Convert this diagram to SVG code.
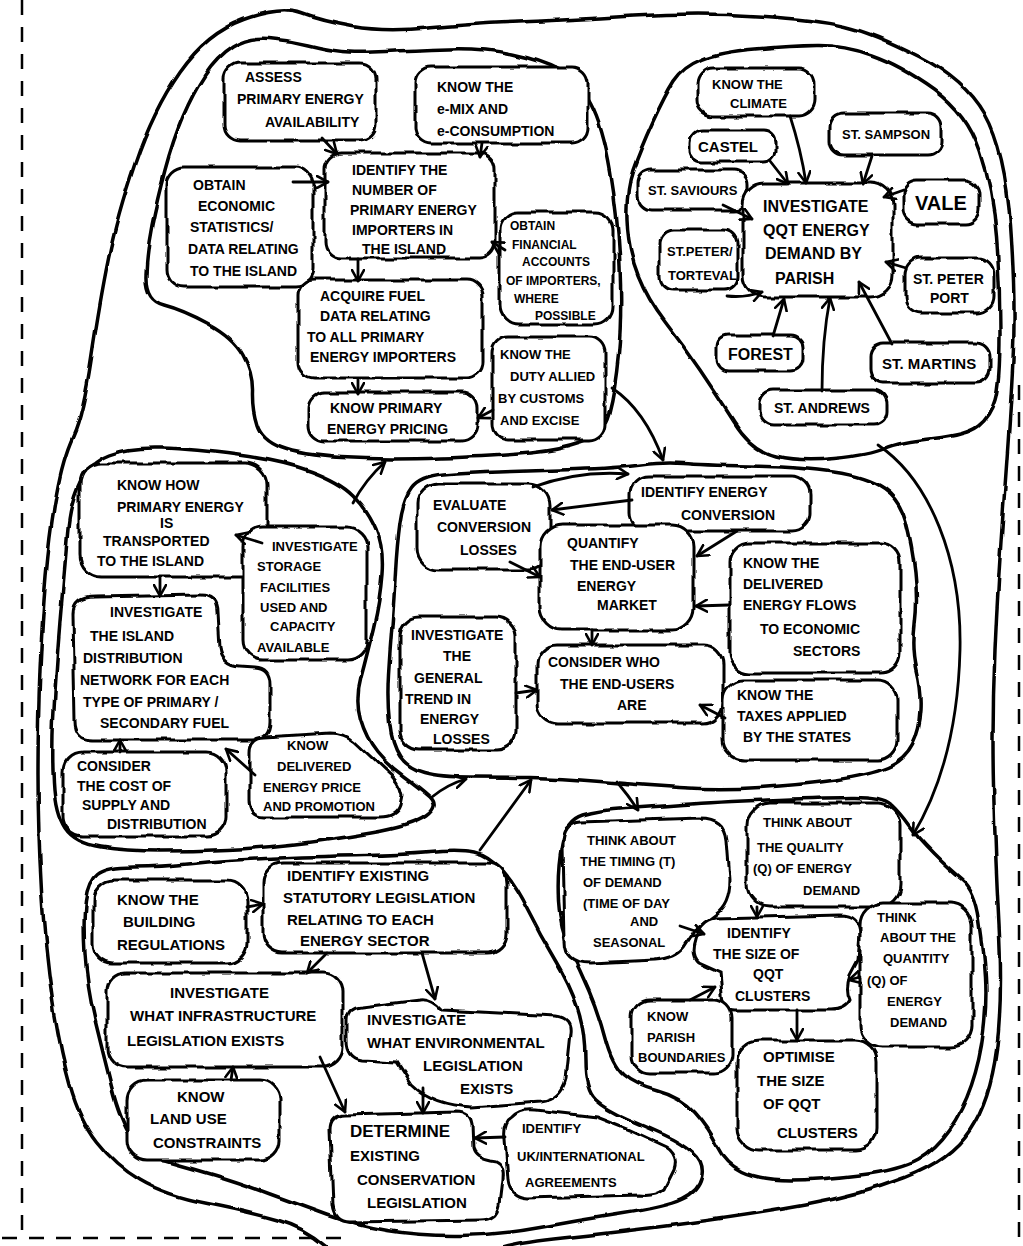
<svg xmlns="http://www.w3.org/2000/svg" width="1023" height="1246" viewBox="0 0 1023 1246">
<defs>
<filter id="wob" x="-10%" y="-15%" width="120%" height="130%"><feTurbulence type="fractalNoise" baseFrequency="0.045" numOctaves="2" seed="3"/><feDisplacementMap in="SourceGraphic" scale="6" xChannelSelector="R" yChannelSelector="G"/></filter>
<filter id="wob2" x="-5%" y="-5%" width="110%" height="110%"><feTurbulence type="fractalNoise" baseFrequency="0.03" numOctaves="2" seed="7"/><feDisplacementMap in="SourceGraphic" scale="5" xChannelSelector="R" yChannelSelector="G"/></filter>
<marker id="ah" viewBox="0 0 14 14" refX="12" refY="7" markerWidth="14" markerHeight="14" markerUnits="userSpaceOnUse" orient="auto"><path d="M1,1 L12,7 L1,13" fill="none" stroke="#000" stroke-width="2.6" stroke-linecap="round" stroke-linejoin="round"/></marker>
</defs>
<style>
.blob{fill:#fff;stroke:#000;stroke-width:3;filter:url(#wob)}
.region{fill:none;stroke:#000;stroke-width:3.5;filter:url(#wob2)}
.dash{fill:none;stroke:#000;stroke-width:2.5;stroke-dasharray:15 12}
text{font-family:"Liberation Sans",Arial,sans-serif;font-weight:bold;font-size:14px;fill:#000}
.s12{font-size:12px}.s13{font-size:13px}.s15{font-size:15px}.s16{font-size:16px}.s17{font-size:17px}.s20{font-size:20px}
.con{fill:none;stroke:#000;stroke-width:2.8;stroke-linecap:round;marker-end:url(#ah)}
</style>
<rect width="1023" height="1246" fill="#fff"/>
<g id="page-border">
<path class="dash" d="M22,0 L22,1232"/>
<path class="dash" d="M2,1238 L342,1238"/>
<path class="dash" d="M1019,385 L1019,1246"/>
</g>
<g id="regions">
<path id="outer" class="region" d="M244.5,19.5 Q282,6 301.5,13.5 Q321,21 352.5,26.5 Q384,32 427,28 Q470,24 518.5,22 Q567,20 633.5,16 Q700,12 758,16 Q816,20 844.5,26.5 Q873,33 919,56.5 Q965,80 985,115 Q1005,150 1010.5,225 Q1016,300 1013,360 Q1010,420 1004,500 Q998,580 995,650 Q992,720 993.5,785 Q995,850 999,925 Q1003,1000 996.5,1050 Q990,1100 970,1130 Q950,1160 905,1177.5 Q860,1195 805,1205 Q750,1215 685,1223.5 Q620,1232 562.5,1238 Q505,1244 487.5,1253 Q470,1262 407.5,1262 Q345,1262 325,1245 Q305,1228 277.5,1220 Q250,1212 207.5,1203.5 Q165,1195 140,1180 Q115,1165 97.5,1142.5 Q80,1120 70,1085 Q60,1050 52.5,1000 Q45,950 41.5,890 Q38,830 38,775 Q38,720 40,670 Q42,620 46,575 Q50,530 56.5,494 Q63,458 73,436.5 Q83,415 91.5,357.5 Q100,300 108.5,258.5 Q117,217 135,163.5 Q153,110 180,71.5 Q207,33 244.5,19.5 Z"/>
<path id="region-primary" class="region" d="M232.5,47 Q248,37 268,38.5 Q288,40 308,45 Q328,50 342.5,51.5 Q357,53 385.5,51.5 Q414,50 448.5,49 Q483,48 511.5,54 Q540,60 559,70 Q578,80 590.5,103.5 Q603,127 610.5,172 Q618,217 620,267 Q622,317 618.5,353.5 Q615,390 609,412.5 Q603,435 581.5,442.5 Q560,450 530,453 Q500,456 441.5,458 Q383,460 341.5,457.5 Q300,455 281,447.5 Q262,440 257,425 Q252,410 252.5,391.5 Q253,373 243,355 Q233,337 208,323.5 Q183,310 164,305 Q145,300 146,275 Q147,250 152,225 Q157,200 165,170 Q173,140 183,116.5 Q193,93 205,75 Q217,57 232.5,47 Z"/>
<path id="region-parish" class="region" d="M674,81 Q683,67 701.5,59.5 Q720,52 755,49 Q790,46 816.5,45.5 Q843,45 871.5,55 Q900,65 933.5,89 Q967,113 980,151.5 Q993,190 996.5,236.5 Q1000,283 1000,333 Q1000,383 995,400 Q990,417 978.5,426 Q967,435 933.5,438.5 Q900,442 885,448.5 Q870,455 835,458.5 Q800,462 776,456 Q752,450 734.5,422.5 Q717,395 700,370 Q683,345 665.5,322.5 Q648,300 638,275 Q628,250 627,220 Q626,190 633,170 Q640,150 652.5,122.5 Q665,95 674,81 Z"/>
<path id="region-transport" class="region" d="M110,455 Q130,447 161.5,448 Q193,449 238,455 Q283,461 311.5,471.5 Q340,482 354,496 Q368,510 376,529 Q384,548 382,574 Q380,600 373.5,627.5 Q367,655 361,677.5 Q355,700 360.5,719 Q366,738 377,751.5 Q388,765 404,776.5 Q420,788 430,797 Q440,806 426,816 Q412,826 371,833 Q330,840 295,844 Q260,848 226.5,849.5 Q193,851 160,851 Q127,851 101,847 Q75,843 65,828 Q55,813 53.5,783 Q52,753 53.5,720 Q55,687 57.5,653.5 Q60,620 62.5,592.5 Q65,565 67.5,534 Q70,503 80,483 Q90,463 110,455 Z"/>
<path id="region-enduser" class="region" d="M411.5,488.5 Q420,477 443.5,475 Q467,473 500,472 Q533,471 575,469.5 Q617,468 641,465 Q665,462 682.5,463.5 Q700,465 750,466 Q800,467 833.5,472 Q867,477 883.5,488.5 Q900,500 906,522.5 Q912,545 915,572.5 Q918,600 915,625 Q912,650 917,670 Q922,690 921,710 Q920,730 912.5,745 Q905,760 887.5,767.5 Q870,775 835,780 Q800,785 760,787.5 Q720,790 680,787.5 Q640,785 600,781.5 Q560,778 530,777.5 Q500,777 470,777 Q440,777 424,772.5 Q408,768 400,756.5 Q392,745 389.5,722.5 Q387,700 388.5,675 Q390,650 392,625 Q394,600 395.5,572.5 Q397,545 400,522.5 Q403,500 411.5,488.5 Z"/>
<path id="region-legislation" class="region" d="M97.5,874.5 Q107,867 133.5,867 Q160,867 193.5,863.5 Q227,860 278.5,858 Q330,856 365,855.5 Q400,855 430,852.5 Q460,850 475,853 Q490,856 502.5,870.5 Q515,885 527.5,910 Q540,935 555,960 Q570,985 577.5,1007.5 Q585,1030 585,1060 Q585,1090 596,1100 Q607,1110 627,1118.5 Q647,1127 664.5,1135 Q682,1143 693.5,1153 Q705,1163 701.5,1177.5 Q698,1192 681.5,1199.5 Q665,1207 622.5,1213.5 Q580,1220 540,1227.5 Q500,1235 460,1235.5 Q420,1236 387.5,1230.5 Q355,1225 327.5,1215 Q300,1205 270,1194 Q240,1183 215,1175.5 Q190,1168 166.5,1161.5 Q143,1155 131.5,1137.5 Q120,1120 111.5,1086.5 Q103,1053 95,1020 Q87,987 85,953.5 Q83,920 85.5,901 Q88,882 97.5,874.5 Z"/>
<path id="region-qqt" class="region" d="M562,845 Q567,820 583.5,815 Q600,810 625,808.5 Q650,807 683.5,804.5 Q717,802 767,800 Q817,798 850,797.5 Q883,797 891.5,805 Q900,813 908.5,825 Q917,837 933.5,853.5 Q950,870 962.5,880 Q975,890 979.5,920 Q984,950 985.5,976.5 Q987,1003 983.5,1031.5 Q980,1060 971.5,1085 Q963,1110 949,1130 Q935,1150 917.5,1160 Q900,1170 860,1175 Q820,1180 790,1180 Q760,1180 742.5,1171.5 Q725,1163 716.5,1145.5 Q708,1128 694,1112.5 Q680,1097 657.5,1091 Q635,1085 623.5,1075 Q612,1065 605,1038.5 Q598,1012 589,991 Q580,970 570,950 Q560,930 558.5,900 Q557,870 562,845 Z"/>
</g>
<g id="n-assess"><rect class="blob" x="224" y="63" width="152" height="78" rx="16"/><text x="245" y="82">ASSESS</text><text x="237" y="104">PRIMARY ENERGY</text><text x="265" y="127">AVAILABILITY</text></g>
<g id="n-emix"><rect class="blob" x="415" y="67" width="173" height="76" rx="16"/><text x="437" y="92">KNOW THE</text><text x="437" y="114">e-MIX AND</text><text x="437" y="136">e-CONSUMPTION</text></g>
<g id="n-importers"><rect class="blob" x="325" y="153" width="170" height="105" rx="16"/><text x="352" y="175">IDENTIFY THE</text><text x="352" y="195">NUMBER OF</text><text x="350" y="215">PRIMARY ENERGY</text><text x="352" y="235">IMPORTERS IN</text><text x="362" y="254">THE ISLAND</text></g>
<g id="n-economic"><rect class="blob" x="166" y="167" width="147" height="120" rx="18"/><text x="193" y="190">OBTAIN</text><text x="198" y="211">ECONOMIC</text><text x="190" y="232">STATISTICS/</text><text x="188" y="254">DATA RELATING</text><text x="190" y="276">TO THE ISLAND</text></g>
<g id="n-financial"><rect class="blob" x="500" y="212" width="113" height="112" rx="18"/><text class="s12" x="510" y="230">OBTAIN</text><text class="s12" x="512" y="249">FINANCIAL</text><text class="s12" x="522" y="266">ACCOUNTS</text><text class="s12" x="506" y="285">OF IMPORTERS,</text><text class="s12" x="514" y="303">WHERE</text><text class="s12" x="535" y="320">POSSIBLE</text></g>
<g id="n-fueldata"><rect class="blob" x="298" y="280" width="185" height="98" rx="16"/><text x="320" y="301">ACQUIRE FUEL</text><text x="320" y="321">DATA RELATING</text><text x="307" y="342">TO ALL PRIMARY</text><text x="310" y="362">ENERGY IMPORTERS</text></g>
<g id="n-duty"><rect class="blob" x="492" y="337" width="113" height="103" rx="16"/><text class="s13" x="500" y="359">KNOW THE</text><text class="s13" x="510" y="381">DUTY ALLIED</text><text class="s13" x="498" y="403">BY CUSTOMS</text><text class="s13" x="500" y="425">AND EXCISE</text></g>
<g id="n-pricing"><rect class="blob" x="308" y="393" width="170" height="48" rx="16"/><text x="330" y="413">KNOW PRIMARY</text><text x="327" y="434">ENERGY PRICING</text></g>
<g id="n-climate"><rect class="blob" x="697" y="68" width="118" height="48" rx="16"/><text class="s13" x="712" y="89">KNOW THE</text><text class="s13" x="730" y="108">CLIMATE</text></g>
<g id="n-castel"><rect class="blob" x="690" y="130" width="85" height="32" rx="12"/><text class="s15" x="698" y="152">CASTEL</text></g>
<g id="n-sampson"><rect class="blob" x="830" y="113" width="112" height="42" rx="14"/><text class="s13" x="842" y="139">ST. SAMPSON</text></g>
<g id="n-saviours"><rect class="blob" x="637" y="170" width="110" height="40" rx="14"/><text class="s13" x="648" y="195">ST. SAVIOURS</text></g>
<g id="n-vale"><rect class="blob" x="903" y="180" width="76" height="44" rx="14"/><text class="s20" x="915" y="210">VALE</text></g>
<g id="n-torteval"><rect class="blob" x="660" y="230" width="78" height="60" rx="14"/><text class="s13" x="667" y="256">ST.PETER/</text><text class="s13" x="668" y="280">TORTEVAL</text></g>
<g id="n-parish-demand"><rect class="blob" x="743" y="183" width="150" height="114" rx="22"/><text class="s16" x="763" y="212">INVESTIGATE</text><text class="s16" x="763" y="236">QQT ENERGY</text><text class="s16" x="765" y="259">DEMAND BY</text><text class="s16" x="775" y="284">PARISH</text></g>
<g id="n-peterport"><rect class="blob" x="905" y="258" width="88" height="55" rx="16"/><text x="913" y="284">ST. PETER</text><text x="930" y="303">PORT</text></g>
<g id="n-forest"><rect class="blob" x="717" y="335" width="86" height="36" rx="12"/><text class="s16" x="728" y="360">FOREST</text></g>
<g id="n-martins"><rect class="blob" x="870" y="343" width="120" height="40" rx="14"/><text class="s15" x="882" y="369">ST. MARTINS</text></g>
<g id="n-andrews"><rect class="blob" x="760" y="390" width="127" height="35" rx="14"/><text x="774" y="413">ST. ANDREWS</text></g>
<g id="n-transported"><rect class="blob" x="80" y="463" width="187" height="114" rx="22"/><text x="117" y="490">KNOW HOW</text><text x="117" y="512">PRIMARY ENERGY</text><text x="160" y="528">IS</text><text x="103" y="546">TRANSPORTED</text><text x="97" y="566">TO THE ISLAND</text></g>
<g id="n-storage"><rect class="blob" x="243" y="527" width="124" height="133" rx="20"/><text class="s13" x="272" y="551">INVESTIGATE</text><text class="s13" x="257" y="571">STORAGE</text><text class="s13" x="260" y="592">FACILITIES</text><text class="s13" x="260" y="612">USED AND</text><text class="s13" x="270" y="631">CAPACITY</text><text class="s13" x="257" y="652">AVAILABLE</text></g>
<g id="n-distribution"><path class="blob" d="M95,597 L200,595 Q218,595 218,612 L220,648 Q222,665 240,666 L255,667 Q270,668 270,684 L270,722 Q270,740 252,740 L92,740 Q75,740 75,722 L73,615 Q73,597 95,597 Z"/><text x="110" y="617">INVESTIGATE</text><text x="90" y="641">THE ISLAND</text><text x="83" y="663">DISTRIBUTION</text><text x="80" y="685">NETWORK FOR EACH</text><text x="83" y="707">TYPE OF PRIMARY /</text><text x="100" y="728">SECONDARY FUEL</text></g>
<g id="n-cost"><rect class="blob" x="63" y="752" width="163" height="84" rx="20"/><text x="77" y="771">CONSIDER</text><text x="77" y="791">THE COST OF</text><text x="82" y="810">SUPPLY AND</text><text x="107" y="829">DISTRIBUTION</text></g>
<g id="n-price"><path class="blob" d="M265,737 L330,733 Q345,733 355,742 L385,770 Q400,782 402,795 L400,805 Q396,817 380,817 L265,817 Q250,817 250,800 L250,752 Q250,737 265,737 Z"/><text class="s13" x="287" y="750">KNOW</text><text class="s13" x="277" y="771">DELIVERED</text><text class="s13" x="263" y="792">ENERGY PRICE</text><text class="s13" x="263" y="811">AND PROMOTION</text></g>
<g id="n-evaluate"><rect class="blob" x="417" y="483" width="133" height="87" rx="22"/><text x="433" y="510">EVALUATE</text><text x="437" y="532">CONVERSION</text><text x="460" y="555">LOSSES</text></g>
<g id="n-conversion"><rect class="blob" x="630" y="476" width="180" height="55" rx="18"/><text x="641" y="497">IDENTIFY ENERGY</text><text x="681" y="520">CONVERSION</text></g>
<g id="n-market"><rect class="blob" x="540" y="525" width="153" height="105" rx="22"/><text x="567" y="548">QUANTIFY</text><text x="570" y="570">THE END-USER</text><text x="577" y="591">ENERGY</text><text x="597" y="610">MARKET</text></g>
<g id="n-flows"><rect class="blob" x="730" y="543" width="170" height="130" rx="20"/><text x="743" y="568">KNOW THE</text><text x="743" y="589">DELIVERED</text><text x="743" y="610">ENERGY FLOWS</text><text x="760" y="634">TO ECONOMIC</text><text x="793" y="656">SECTORS</text></g>
<g id="n-trend"><rect class="blob" x="400" y="617" width="116" height="133" rx="20"/><text x="411" y="640">INVESTIGATE</text><text x="443" y="661">THE</text><text x="414" y="683">GENERAL</text><text x="405" y="704">TREND IN</text><text x="420" y="724">ENERGY</text><text x="433" y="744">LOSSES</text></g>
<g id="n-endusers"><rect class="blob" x="537" y="645" width="186" height="78" rx="20"/><text x="548" y="667">CONSIDER WHO</text><text x="560" y="689">THE END-USERS</text><text x="617" y="710">ARE</text></g>
<g id="n-taxes"><rect class="blob" x="723" y="680" width="174" height="80" rx="20"/><text x="737" y="700">KNOW THE</text><text x="737" y="721">TAXES APPLIED</text><text x="743" y="742">BY THE STATES</text></g>
<g id="n-building"><rect class="blob" x="93" y="880" width="154" height="83" rx="20"/><text class="s15" x="117" y="905">KNOW THE</text><text class="s15" x="123" y="927">BUILDING</text><text class="s15" x="117" y="950">REGULATIONS</text></g>
<g id="n-statutory"><rect class="blob" x="263" y="863" width="244" height="90" rx="20"/><text class="s15" x="287" y="881">IDENTIFY EXISTING</text><text class="s15" x="283" y="903">STATUTORY LEGISLATION</text><text class="s15" x="287" y="925">RELATING TO EACH</text><text class="s15" x="300" y="946">ENERGY SECTOR</text></g>
<g id="n-infrastructure"><rect class="blob" x="107" y="973" width="236" height="94" rx="20"/><text class="s15" x="170" y="998">INVESTIGATE</text><text class="s15" x="130" y="1021">WHAT INFRASTRUCTURE</text><text class="s15" x="127" y="1046">LEGISLATION EXISTS</text></g>
<g id="n-environmental"><path class="blob" d="M362,1007 L420,1000 Q432,998 442,1010 L556,1016 Q572,1018 570,1033 L565,1080 Q560,1100 540,1102 L472,1107 Q432,1105 412,1085 L397,1062 L362,1060 Q347,1058 347,1040 L347,1022 Q347,1008 362,1007 Z"/><text class="s15" x="367" y="1025">INVESTIGATE</text><text class="s15" x="367" y="1048">WHAT ENVIRONMENTAL</text><text class="s15" x="423" y="1071">LEGISLATION</text><text class="s15" x="460" y="1094">EXISTS</text></g>
<g id="n-landuse"><rect class="blob" x="127" y="1080" width="153" height="80" rx="20"/><text class="s15" x="177" y="1102">KNOW</text><text class="s15" x="150" y="1124">LAND USE</text><text class="s15" x="153" y="1148">CONSTRAINTS</text></g>
<g id="n-conservation"><path class="blob" d="M345,1115 L455,1112 Q470,1112 472,1125 L473,1148 Q475,1157 490,1160 L496,1161 Q505,1165 503,1180 L500,1205 Q497,1220 480,1220 L350,1222 Q335,1222 333,1205 L330,1130 Q330,1115 345,1115 Z"/><text class="s17" x="350" y="1137">DETERMINE</text><text class="s15" x="350" y="1161">EXISTING</text><text class="s15" x="357" y="1185">CONSERVATION</text><text class="s15" x="367" y="1208">LEGISLATION</text></g>
<g id="n-agreements"><path class="blob" d="M512,1117 Q520,1108 535,1110 L597,1117 L630,1130 L667,1147 Q680,1155 675,1170 L665,1190 Q655,1197 640,1195 L527,1198 Q510,1197 508,1180 L505,1140 Q503,1122 512,1117 Z"/><text class="s13" x="522" y="1133">IDENTIFY</text><text class="s13" x="517" y="1161">UK/INTERNATIONAL</text><text class="s13" x="525" y="1187">AGREEMENTS</text></g>
<g id="n-timing"><path class="blob" d="M580,822 L700,818 Q725,818 727,840 L730,880 Q730,905 715,915 L695,930 L683,948 Q675,958 655,960 L590,963 Q565,963 565,940 L563,845 Q563,823 580,822 Z"/><text class="s13" x="587" y="845">THINK ABOUT</text><text class="s13" x="580" y="866">THE TIMING (T)</text><text class="s13" x="583" y="887">OF DEMAND</text><text class="s13" x="583" y="908">(TIME OF DAY</text><text class="s13" x="630" y="926">AND</text><text class="s13" x="593" y="947">SEASONAL</text></g>
<g id="n-quality"><rect class="blob" x="747" y="803" width="153" height="104" rx="22"/><text class="s13" x="763" y="827">THINK ABOUT</text><text class="s13" x="757" y="852">THE QUALITY</text><text class="s13" x="753" y="873">(Q) OF ENERGY</text><text class="s13" x="803" y="895">DEMAND</text></g>
<g id="n-clustersize"><path class="blob" d="M715,918 L840,915 Q860,915 860,935 L858,960 L850,975 Q845,990 850,1000 Q845,1010 830,1010 L735,1010 Q722,1010 722,995 L720,972 L698,962 Q690,955 695,940 Q700,920 715,918 Z"/><text x="727" y="938">IDENTIFY</text><text x="713" y="959">THE SIZE OF</text><text x="753" y="979">QQT</text><text x="735" y="1001">CLUSTERS</text></g>
<g id="n-quantity"><rect class="blob" x="860" y="903" width="112" height="144" rx="22"/><text class="s13" x="877" y="922">THINK</text><text class="s13" x="880" y="942">ABOUT THE</text><text class="s13" x="883" y="963">QUANTITY</text><text class="s13" x="867" y="985">(Q) OF</text><text class="s13" x="887" y="1006">ENERGY</text><text class="s13" x="890" y="1027">DEMAND</text></g>
<g id="n-boundaries"><rect class="blob" x="632" y="1000" width="100" height="73" rx="18"/><text class="s13" x="647" y="1021">KNOW</text><text class="s13" x="647" y="1042">PARISH</text><text class="s13" x="638" y="1062">BOUNDARIES</text></g>
<g id="n-optimise"><rect class="blob" x="737" y="1040" width="140" height="110" rx="22"/><text class="s15" x="763" y="1062">OPTIMISE</text><text class="s15" x="757" y="1086">THE SIZE</text><text class="s15" x="763" y="1109">OF QQT</text><text class="s15" x="777" y="1138">CLUSTERS</text></g>
<g id="connectors">
<path class="con" d="M322,138 L337,154"/>
<path class="con" d="M482,143 L480,157"/>
<path class="con" d="M293,182 L328,182"/>
<path class="con" d="M505,250 L492,242"/>
<path class="con" d="M358,259 L358,281"/>
<path class="con" d="M358,379 L358,394"/>
<path class="con" d="M493,410 L478,418"/>
<path class="con" d="M790,116 Q801,150 806,183"/>
<path class="con" d="M770,161 L788,184"/>
<path class="con" d="M872,156 L863,184"/>
<path class="con" d="M904,190 L884,197"/>
<path class="con" d="M723,205 L752,219"/>
<path class="con" d="M727,296 Q745,298 762,292"/>
<path class="con" d="M906,268 L886,262"/>
<path class="con" d="M773,336 L784,299"/>
<path class="con" d="M822,391 Q822,340 830,298"/>
<path class="con" d="M892,344 L859,282"/>
<path class="con" d="M160,577 L160,596"/>
<path class="con" d="M262,543 L236,535"/>
<path class="con" d="M120,752 L120,740"/>
<path class="con" d="M255,775 L226,749"/>
<path class="con" d="M533,487 Q580,470 628,474"/>
<path class="con" d="M632,500 L552,510"/>
<path class="con" d="M737,531 L697,556"/>
<path class="con" d="M510,562 L540,577"/>
<path class="con" d="M729,605 L696,606"/>
<path class="con" d="M592,630 L592,645"/>
<path class="con" d="M516,693 L537,690"/>
<path class="con" d="M725,718 L700,705"/>
<path class="con" d="M247,907 L263,904"/>
<path class="con" d="M327,953 L307,973"/>
<path class="con" d="M422,953 L435,999"/>
<path class="con" d="M231,1080 L233,1067"/>
<path class="con" d="M320,1057 L345,1112"/>
<path class="con" d="M423,1088 L423,1113"/>
<path class="con" d="M505,1137 L475,1138"/>
<path class="con" d="M680,926 L704,934"/>
<path class="con" d="M757,907 L757,917"/>
<path class="con" d="M860,977 L849,980"/>
<path class="con" d="M690,1000 L715,987"/>
<path class="con" d="M797,1010 L797,1040"/>
<path class="con" d="M612,388 Q645,410 663,460"/>
<path class="con" d="M353,503 Q365,480 385,462"/>
<path class="con" d="M432,797 Q448,784 466,779"/>
<path class="con" d="M480,850 L531,780"/>
<path class="con" d="M617,782 Q628,795 638,810"/>
<path class="con" d="M878,445 C930,480 962,560 960,650 C958,730 940,790 913,835"/>
</g>
</svg>
